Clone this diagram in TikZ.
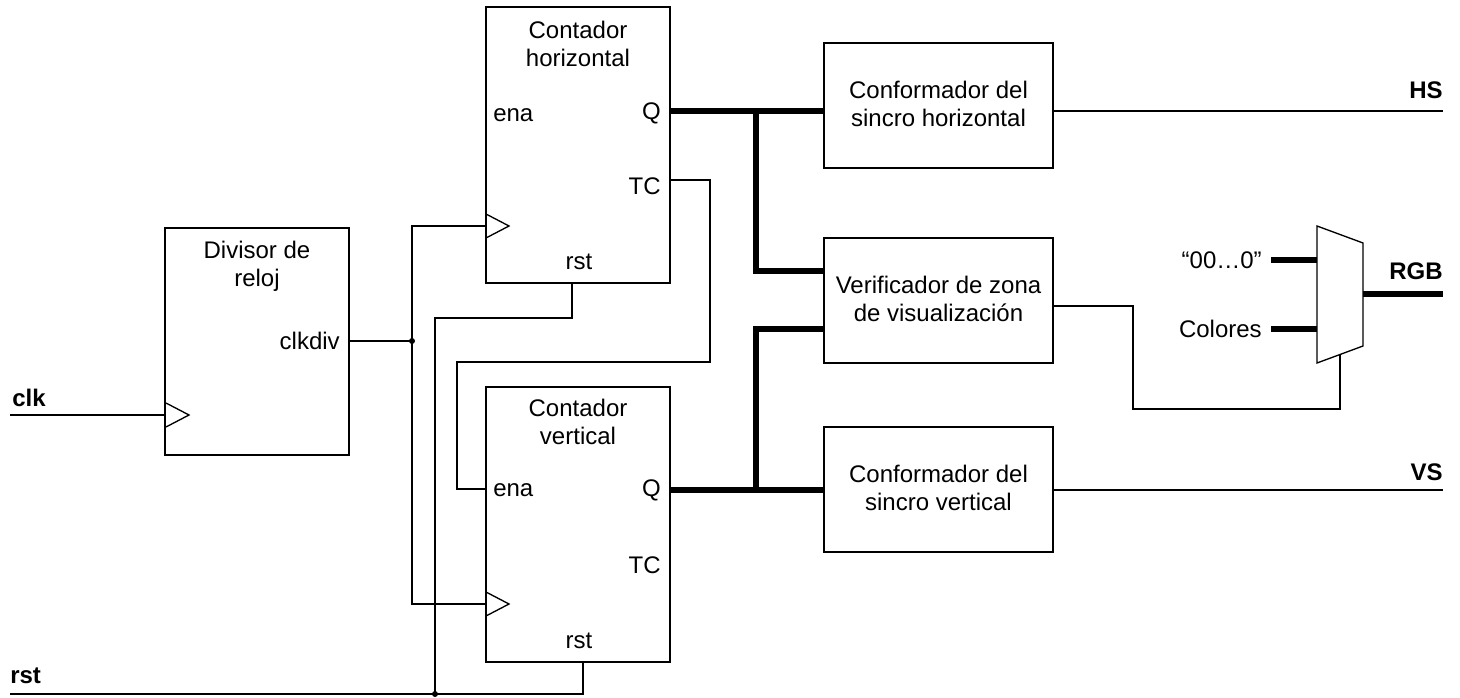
\documentclass[tikz,border=0pt]{standalone}
\usepackage{fontspec}
\setmainfont{Liberation Sans}
\usetikzlibrary{fit}
\begin{document}
\begin{tikzpicture}[x=0.75pt,y=-0.75pt,
  box/.style={draw,line width=1pt,inner sep=0pt},
  lbl/.style={inner sep=0pt,font=\fontsize{18}{21}\selectfont},
  blbl/.style={lbl,font=\fontsize{18}{21}\selectfont\bfseries},
  ctext/.style={lbl,align=center},
  wire/.style={line width=1pt},
  bus/.style={line width=4.4pt},
  dotc/.style={fill,circle,inner sep=0pt,minimum size=4.5pt}]
\useasboundingbox (0,0) rectangle (1460,698);
% boxes
\node[box,fit={(165,228)(349,455)}] (div) {};
\node[box,fit={(486,7)(670,283)}] (ch) {};
\node[box,fit={(486,387)(670,662)}] (cv) {};
\node[box,fit={(824,43)(1053,168)}] (sh) {};
\node[box,fit={(824,238)(1053,363)}] (ver) {};
\node[box,fit={(824,427)(1053,552)}] (sv) {};
% box texts
\node[ctext] (tdiv) at (257,266) {Divisor de\\reloj};
\node[ctext] (tch) at (578,44) {Contador\\horizontal};
\node[ctext] (tcv) at (578,422) {Contador\\vertical};
\node[ctext] (tsh) at (938.5,104) {Conformador del\\sincro horizontal};
\node[ctext] (tver) at (938.5,299) {Verificador de zona\\de visualizaci\'on};
\node[ctext] (tsv) at (938.5,488) {Conformador del\\sincro vertical};
% port labels
\node[lbl,anchor=east] (lclkdiv) at (340,341) {clkdiv};
\node[lbl,anchor=west] (lena1) at (493,115) {ena};
\node[lbl,anchor=east] (lq1) at (661,113) {Q};
\node[lbl,anchor=east] (ltc1) at (661,186) {TC};
\node[lbl] (lrst1) at (579,262) {rst};
\node[lbl,anchor=west] (lena2) at (493,490) {ena};
\node[lbl,anchor=east] (lq2) at (661,490) {Q};
\node[lbl,anchor=east] (ltc2) at (661,565) {TC};
\node[lbl] (lrst2) at (579,641) {rst};
% clock triangles
\draw[wire] (166,403) -- (189,415) -- (166,427);
\draw[wire] (486,214) -- (509,226) -- (486,238);
\draw[wire] (486,592) -- (509,604) -- (486,616);
% external labels
\node[blbl,anchor=west] (lclk) at (12,398) {clk};
\node[blbl,anchor=west] (lrst) at (10,676) {rst};
\node[blbl,anchor=east] (lhs) at (1443,90) {HS};
\node[blbl,anchor=east] (lvs) at (1443,472) {VS};
\node[blbl,anchor=east] (lrgb) at (1443,271) {RGB};
\node[lbl,anchor=east] (lzero) at (1262,260) {“00…0”};
\node[lbl,anchor=east] (lcol) at (1262,329) {Colores};
% mux
\coordinate (m1) at (1317,226);
\coordinate (m2) at (1363,243);
\coordinate (m3) at (1363,346);
\coordinate (m4) at (1317,363);
\draw[wire] (m1) -- (m2) -- (m3) -- (m4) -- cycle;
% coordinates
\coordinate (clkin) at (10,415);
\coordinate (divclk) at (166,415);
\coordinate (divout) at (349,341);
\coordinate (j1) at (412,341);
\coordinate (chclk) at (486,226);
\coordinate (cvclk) at (486,604);
\coordinate (rstin) at (10,694);
\coordinate (j2) at (435,694);
\coordinate (chrst) at (572,283);
\coordinate (cvrst) at (583,662);
\coordinate (chtc) at (670,180);
\coordinate (cvena) at (486,489);
\coordinate (chq) at (670,111);
\coordinate (cvq) at (670,490);
\coordinate (b1) at (756,111);
\coordinate (b2) at (756,490);
\coordinate (shin) at (824,111);
\coordinate (verin1) at (824,271);
\coordinate (verin2) at (824,329);
\coordinate (svin) at (824,490);
\coordinate (shout) at (1053,111);
\coordinate (hsend) at (1443,111);
\coordinate (svout) at (1053,490);
\coordinate (vsend) at (1443,490);
\coordinate (verout) at (1053,306);
\coordinate (msel) at (1340,354.5);
\coordinate (min1) at (1317,260);
\coordinate (min2) at (1317,329);
\coordinate (zin) at (1271,260);
\coordinate (cin) at (1271,329);
\coordinate (mout) at (1363,294);
\coordinate (rgbend) at (1443,294);
% thin wires
\draw[wire] (clkin) -- (divclk);
\draw[wire] (divout) -- (j1);
\draw[wire] (chclk) -| (j1) |- (cvclk);
\draw[wire] (rstin) -| (cvrst);
\draw[wire] (j2) |- (572,318) -- (chrst);
\draw[wire] (chtc) -| (710,362) -| (457,489) -- (cvena);
\draw[wire] (shout) -- (hsend);
\draw[wire] (svout) -- (vsend);
\draw[wire] (verout) -| (1133,409) -| (msel);
\node[dotc] at (j1) {};
\node[dotc] at (j2) {};
% buses
\draw[bus] (chq) -- (shin);
\draw[bus] (b1) |- (verin1);
\draw[bus] (cvq) -- (svin);
\draw[bus] (b2) |- (verin2);
\draw[bus] (zin) -- (min1);
\draw[bus] (cin) -- (min2);
\draw[bus] (mout) -- (rgbend);
\end{tikzpicture}
\end{document}
